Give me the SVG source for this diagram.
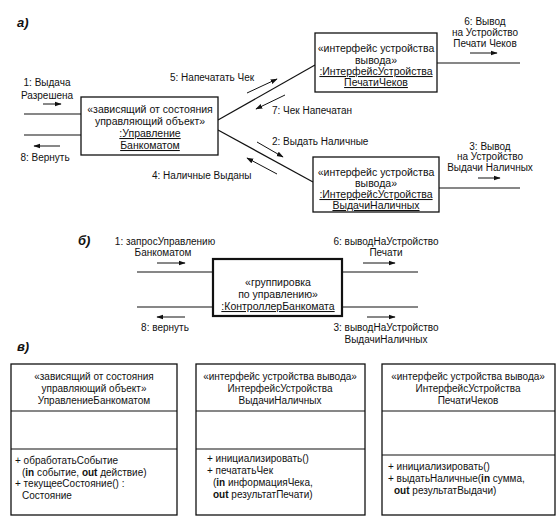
<svg xmlns="http://www.w3.org/2000/svg" width="557" height="527" viewBox="0 0 557 527">
<defs>
<marker id="ah" viewBox="0 0 10 10" refX="9" refY="5" markerWidth="7" markerHeight="7" orient="auto" markerUnits="userSpaceOnUse">
<path d="M0,1.5 L10,5 L0,8.5 Z" fill="#111"/>
</marker>
<style>
text{font-family:"Liberation Sans",Arial,sans-serif;fill:#111}
.t{font-size:10px}
.b{font-size:10.5px;text-anchor:middle}
.c{font-size:10px;text-anchor:middle}
.m{text-anchor:middle}
.u{text-decoration:underline}
.sec{font-size:13px;font-weight:bold;font-style:italic}
.box{fill:#fff;stroke:#111;stroke-width:1.3}
.thick{fill:#fff;stroke:#111;stroke-width:2.2}
.ln{stroke:#111;stroke-width:1.2;fill:none}
.msg{stroke:#111;stroke-width:1;fill:none;marker-end:url(#ah)}
</style>
</defs>
<rect width="557" height="527" fill="#fff"/>

<text class="sec" x="17" y="27">а)</text>
<text class="sec" x="78" y="245">б)</text>
<text class="sec" x="17" y="351">в)</text>

<g id="connectors">
<!-- section a -->
<line class="ln" x1="24" y1="114" x2="81" y2="114"/>
<line class="ln" x1="24" y1="135" x2="81" y2="135"/>
<line class="ln" x1="218" y1="120" x2="315" y2="65"/>
<line class="ln" x1="218" y1="130" x2="313" y2="182"/>
<line class="ln" x1="437" y1="63" x2="520" y2="63"/>
<line class="ln" x1="439" y1="188" x2="520" y2="188"/>
<line class="msg" x1="43" y1="104" x2="61" y2="104"/>
<line class="msg" x1="60" y1="146" x2="34" y2="146"/>
<line class="msg" x1="247" y1="93" x2="277" y2="79"/>
<line class="msg" x1="285" y1="95" x2="256" y2="109"/>
<line class="msg" x1="257" y1="142" x2="283" y2="157"/>
<line class="msg" x1="277" y1="174" x2="247" y2="158"/>
<line class="msg" x1="470" y1="53" x2="497" y2="53"/>
<line class="msg" x1="478" y1="178" x2="500" y2="178"/>
<!-- section b -->
<line class="ln" x1="137" y1="272" x2="213" y2="272"/>
<line class="ln" x1="137" y1="307" x2="213" y2="307"/>
<line class="ln" x1="342" y1="272" x2="418" y2="272"/>
<line class="ln" x1="342" y1="307" x2="418" y2="307"/>
<line class="msg" x1="157" y1="263" x2="185" y2="263"/>
<line class="msg" x1="185" y1="317" x2="157" y2="317"/>
<line class="msg" x1="363" y1="263" x2="395" y2="263"/>
<line class="msg" x1="367" y1="317" x2="395" y2="317"/>
</g>

<g id="labels-a">
<text class="t m" x="47" y="86">1: Выдача</text>
<text class="t m" x="47" y="99">Разрешена</text>
<text class="t m" x="45" y="161">8: Вернуть</text>
<text class="t" x="170" y="81">5: Напечатать Чек</text>
<text class="t" x="272" y="114">7: Чек Напечатан</text>
<text class="t" x="272" y="145">2: Выдать Наличные</text>
<text class="t" x="152" y="179">4: Наличные Выданы</text>
<text class="t m" x="485" y="25">6: Вывод</text>
<text class="t m" x="485" y="36">на Устройство</text>
<text class="t m" x="485" y="47">Печати Чеков</text>
<text class="t m" x="490" y="150">3: Вывод</text>
<text class="t m" x="490" y="160">на Устройство</text>
<text class="t m" x="490" y="171">Выдачи Наличных</text>
</g>

<g id="node-a-control">
<rect class="box" x="81" y="97" width="137" height="58"/>
<text class="b" x="150" y="113">«зависящий от состояния</text>
<text class="b" x="150" y="125">управляющий объект»</text>
<text class="b u" x="150" y="137">:Управление</text>
<text class="b u" x="150" y="149">Банкоматом</text>
</g>

<g id="node-a-receipt">
<rect class="box" x="315" y="33" width="122" height="59"/>
<text class="b" x="376" y="52">«интерфейс устройства</text>
<text class="b" x="376" y="64">вывода»</text>
<text class="b u" x="376" y="75">:ИнтерфейсУстройства</text>
<text class="b u" x="376" y="86">ПечатиЧеков</text>
</g>

<g id="node-a-cash">
<rect class="box" x="313" y="157" width="126" height="55"/>
<text class="b" x="376" y="176">«интерфейс устройства</text>
<text class="b" x="376" y="187">вывода»</text>
<text class="b u" x="376" y="198">:ИнтерфейсУстройства</text>
<text class="b u" x="376" y="209">ВыдачиНаличных</text>
</g>

<g id="labels-b">
<text class="t m" x="165" y="245">1: запросУправлению</text>
<text class="t m" x="163" y="256">Банкоматом</text>
<text class="t m" x="386" y="245">6: выводНаУстройство</text>
<text class="t m" x="386" y="256">Печати</text>
<text class="t m" x="165" y="331">8: вернуть</text>
<text class="t m" x="386" y="331">3: выводНаУстройство</text>
<text class="t m" x="386" y="343">ВыдачиНаличных</text>
</g>

<g id="node-b-controller">
<rect class="thick" x="213" y="259" width="129" height="57"/>
<text class="b" x="278" y="286">«группировка</text>
<text class="b" x="278" y="298">по управлению»</text>
<text class="b u" x="278" y="310">:КонтроллерБанкомата</text>
</g>

<g id="class-control">
<rect class="box" x="11" y="364" width="166" height="151"/>
<line class="ln" x1="11" y1="411" x2="177" y2="411"/>
<line class="ln" x1="11" y1="449" x2="177" y2="449"/>
<text class="c" x="94" y="380">«зависящий от состояния</text>
<text class="c" x="94" y="392">управляющий объект»</text>
<text class="c" x="94" y="404">УправлениеБанкоматом</text>
<text class="t" x="15" y="464">+ обработатьСобытие</text>
<text class="t" x="22" y="476">(<tspan font-weight="bold">in</tspan> событие, <tspan font-weight="bold">out</tspan> действие)</text>
<text class="t" x="15" y="487">+ текущееСостояние() :</text>
<text class="t" x="22" y="499">Состояние</text>
</g>

<g id="class-cash">
<rect class="box" x="196" y="364" width="169" height="151"/>
<line class="ln" x1="196" y1="411" x2="365" y2="411"/>
<line class="ln" x1="196" y1="449" x2="365" y2="449"/>
<text class="c" x="280" y="380">«интерфейс устройства вывода»</text>
<text class="c" x="280" y="392">ИнтерфейсУстройства</text>
<text class="c" x="280" y="404">ВыдачиНаличных</text>
<text class="t" x="207" y="462">+ инициализировать()</text>
<text class="t" x="207" y="474">+ печататьЧек</text>
<text class="t" x="213" y="486">(<tspan font-weight="bold">in</tspan> информацияЧека,</text>
<text class="t" x="213" y="498"><tspan font-weight="bold">out</tspan> результатПечати)</text>
</g>

<g id="class-receipt">
<rect class="box" x="382" y="364" width="173" height="151"/>
<line class="ln" x1="382" y1="411" x2="555" y2="411"/>
<line class="ln" x1="382" y1="455" x2="555" y2="455"/>
<text class="c" x="468" y="380">«интерфейс устройства вывода»</text>
<text class="c" x="468" y="392">ИнтерфейсУстройства</text>
<text class="c" x="468" y="404">ПечатиЧеков</text>
<text class="t" x="388" y="470">+ инициализировать()</text>
<text class="t" x="388" y="482">+ выдатьНаличные(<tspan font-weight="bold">in</tspan> сумма,</text>
<text class="t" x="394" y="494"><tspan font-weight="bold">out</tspan> результатВыдачи)</text>
</g>
</svg>
